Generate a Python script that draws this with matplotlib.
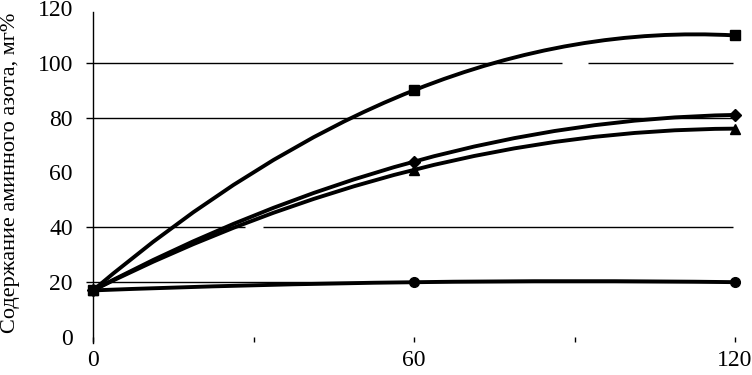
import numpy as np
import matplotlib
matplotlib.use("Agg")
import matplotlib.pyplot as plt
from matplotlib.path import Path
from matplotlib.patches import PathPatch

# --- data ---
time_min = [0, 60, 120]
series_square = [17, 90, 110]
series_diamond = [17, 64, 81]
series_triangle = [17, 61, 76]
series_circle = [17, 20, 20]
y_ticks = [0, 20, 40, 60, 80, 100, 120]
x_labels = [0, 60, 120]
grid_levels = [20, 40, 80, 100]

plt.rcParams['font.family'] = ['Liberation Serif', 'DejaVu Serif']


def smooth_path(xs, ys):
    # one quadratic Bezier through the three points (smoothed line)
    p0, p1, p2 = [np.array(p, float) for p in zip(xs, ys)]
    ctrl = 2 * p1 - (p0 + p2) / 2
    return Path([p0, ctrl, p2], [Path.MOVETO, Path.CURVE3, Path.CURVE3])


fig = plt.figure(figsize=(7.52, 3.75), dpi=100)
ax = fig.add_axes([93 / 752, 1 - 337 / 375, 642 / 752, 329 / 375])

for ys, marker, ms in [(series_square, 's', 7.5),
                       (series_diamond, 'D', 6),
                       (series_triangle, '^', 7.5),
                       (series_circle, 'o', 7)]:
    ax.add_patch(PathPatch(smooth_path(time_min, ys), facecolor='none',
                           edgecolor='black', lw=2.8, capstyle='round',
                           joinstyle='round', zorder=3))
    ax.plot(time_min, ys, linestyle='none', marker=marker, ms=ms,
            color='black', clip_on=False, zorder=4)

ax.set_xlim(0, 120)
ax.set_ylim(0, 120)

# horizontal grid lines (with tick stubs left of the axis); small breaks as in the original
w = 642.0
gaps = {40: (152, 170), 100: (469, 495)}
for lvl in grid_levels:
    segs = [(-7, 640)]
    if lvl in gaps:
        a, b = gaps[lvl]
        segs = [(-7, a), (b, 640)]
    for a, b in segs:
        ax.hlines(lvl, a / w, b / w, colors='black', lw=1.0,
                  transform=ax.get_yaxis_transform(), clip_on=False, zorder=1)

ax.spines['top'].set_visible(False)
ax.spines['right'].set_visible(False)
ax.spines['bottom'].set_visible(False)
ax.spines['left'].set_linewidth(1.0)
ax.spines['left'].set_bounds(-2.2, 118.5)

ax.set_yticks(y_ticks)
ax.tick_params(axis='y', length=0, pad=14.5, labelsize=17)
ax.set_xticks([0, 30, 60, 90, 120])
ax.set_xticklabels([str(v) if v in x_labels else '' for v in [0, 30, 60, 90, 120]])
ax.tick_params(axis='x', length=3.5, width=1.0, direction='out', pad=6,
               labelsize=17)

ax.set_ylabel('Содержание аминного азота, мг%', fontsize=16)
ax.yaxis.set_label_coords(-73 / 642, 0.5)

fig.savefig('out.png', dpi=100)
